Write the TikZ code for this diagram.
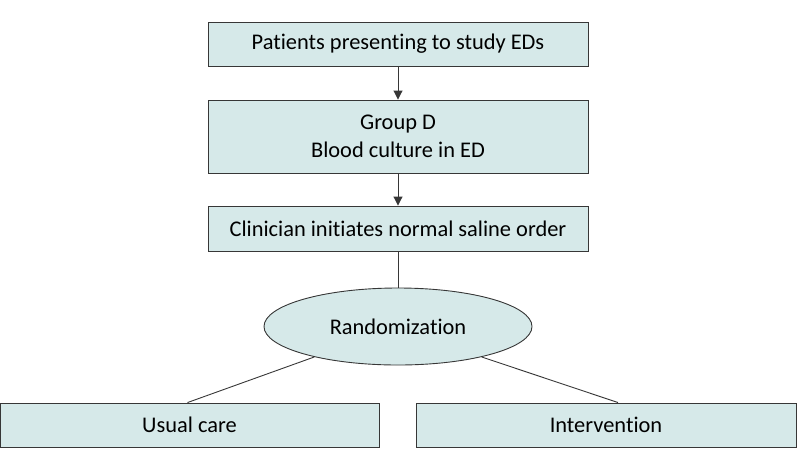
\documentclass[tikz,border=0pt]{standalone}
\usepackage{fontspec}
\setmainfont[Ligatures={NoCommon}]{Carlito}
\usetikzlibrary{shapes.geometric,arrows.meta}
\definecolor{boxfill}{RGB}{214,233,233}
\definecolor{boxline}{RGB}{55,55,55}
\tikzset{
  flowbox/.style={draw=boxline,fill=boxfill,line width=0.9pt,inner sep=0pt,align=center,font=\fontsize{22.4}{28}\selectfont},
  conn/.style={draw=boxline,line width=0.9pt},
  arr/.style={conn,-{Triangle[length=9pt,width=9pt]}}
}
\begin{document}
\begin{tikzpicture}[x=1pt,y=-1pt]
\useasboundingbox (0,0) rectangle (798,467);
\node[flowbox,minimum width=380pt,minimum height=44pt] (a) at (398,44) {Patients presenting to study EDs};
\node[flowbox,minimum width=380pt,minimum height=73pt] (b) at (398,136.5) {Group D\\Blood culture in ED};
\node[flowbox,minimum width=380pt,minimum height=45pt] (c) at (398,228.5) {Clinician initiates normal saline order};
\node[flowbox,ellipse,minimum width=268pt,minimum height=77pt] (r) at (398,326.5) {Randomization};
\node[flowbox,minimum width=379pt,minimum height=44pt] (u) at (189.5,425) {Usual care};
\node[flowbox,minimum width=380pt,minimum height=44pt] (i) at (606,425) {Intervention};
\draw[arr] (a) -- (b);
\draw[arr] (b) -- (c);
\draw[conn] (c) -- (r);
\draw[conn] (r.200) -- ([xshift=-2pt]u.north);
\draw[conn] (r.340) -- ([xshift=12pt]i.north);
\end{tikzpicture}
\end{document}
